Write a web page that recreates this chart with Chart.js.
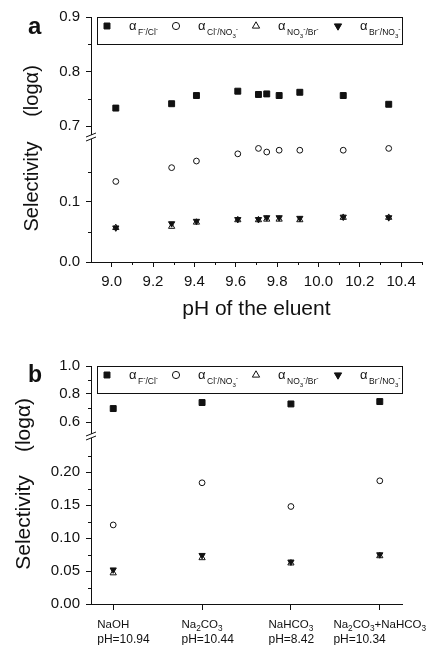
<!DOCTYPE html>
<html>
<head>
<meta charset="utf-8">
<script src="https://cdn.jsdelivr.net/npm/chart.js@4.4.1/dist/chart.umd.min.js"></script>
<style>
  html, body { margin: 0; padding: 0; background: #fff; }
  canvas { display: block; }
</style>
</head>
<body>
<canvas id="chartA" width="427" height="330"></canvas>
<canvas id="chartB" width="427" height="315"></canvas>
<script>
// ---- panel a: selectivity vs pH of the eluent ----
const phValues = [9.02, 9.29, 9.41, 9.61, 9.71, 9.75, 9.81, 9.91, 10.12, 10.34];
const alphaFClA = [0.733, 0.741, 0.756, 0.764, 0.758, 0.759, 0.756, 0.762, 0.756, 0.740];
const alphaClNO3A = [0.134, 0.157, 0.168, 0.180, 0.189, 0.183, 0.186, 0.186, 0.186, 0.189];
const alphaNO3BrA = [0.057, 0.059, 0.066, 0.070, 0.070, 0.071, 0.071, 0.070, 0.074, 0.074];
const alphaBrNO3A = [0.057, 0.064, 0.068, 0.071, 0.071, 0.074, 0.074, 0.073, 0.075, 0.074];

const phTicks = [9.0, 9.2, 9.4, 9.6, 9.8, 10.0, 10.2, 10.4];
const phMinorTicks = [9.1, 9.3, 9.5, 9.7, 9.9, 10.1, 10.3, 10.5];
const lowTicksA = [0.0, 0.1];
const lowMinorA = [0.05, 0.15];
const highTicksA = [0.7, 0.8, 0.9];
const highMinorA = [0.75, 0.85];

// ---- panel b: selectivity vs eluent type ----
const eluents = ['NaOH', 'Na2CO3', 'NaHCO3', 'Na2CO3+NaHCO3'];
const eluentPH = ['pH=10.94', 'pH=10.44', 'pH=8.42', 'pH=10.34'];
const alphaFClB = [0.696, 0.739, 0.729, 0.746];
const alphaClNO3B = [0.120, 0.184, 0.148, 0.187];
const alphaNO3BrB = [0.047, 0.070, 0.062, 0.073];
const alphaBrNO3B = [0.052, 0.074, 0.064, 0.075];

const lowTicksB = [0.0, 0.05, 0.10, 0.15, 0.20];
const lowMinorB = [0.025, 0.075, 0.125, 0.175, 0.225];
const highTicksB = [0.6, 0.8, 1.0];
const highMinorB = [0.7, 0.9];

// legend: alpha subscripts ("-" = superscript minus, digits = subscript)
const legendLabels = ['F-/Cl-', 'Cl-/NO3-', 'NO3-/Br-', 'Br-/NO3-'];

const ink = '#111';
const family = "'Liberation Sans', Arial, Helvetica, sans-serif";
Chart.defaults.font.family = family;
Chart.defaults.color = ink;

const seriesStyles = [
  { pointStyle: 'rect', rotation: 0, bg: ink, r: 4.2, legendR: 4.2 },
  { pointStyle: 'circle', rotation: 0, bg: '#fff', r: 2.9, legendR: 3.6 },
  { pointStyle: 'triangle', rotation: 0, bg: '#fff', r: 3.6, legendR: 4.2 },
  { pointStyle: 'triangle', rotation: 180, bg: ink, r: 3.6, legendR: 4.2 },
];
const drawOrder = [1, 2, 4, 3];

// draws chemistry text: digits as subscripts, "-" as superscript minus
function chemText(ctx, str, x, y, size) {
  for (const ch of str) {
    let s = size, dy = 0;
    if (/[0-9]/.test(ch)) { s = size * 0.72; dy = size * 0.3; }
    else if (ch === '-') { s = size * 0.8; dy = -size * 0.45; }
    ctx.font = s + 'px ' + family;
    ctx.fillText(ch, x, y + dy);
    x += ctx.measureText(ch).width;
  }
  return x;
}

function makeDatasets(xs, series) {
  return series.map((vals, k) => ({
    label: legendLabels[k],
    data: xs.map((x, i) => ({ x, y: vals[i] })),
    yAxisID: k === 0 ? 'yHigh' : 'yLow',
    pointStyle: seriesStyles[k].pointStyle,
    pointRotation: seriesStyles[k].rotation,
    pointRadius: seriesStyles[k].r,
    pointHoverRadius: seriesStyles[k].r,
    pointBackgroundColor: seriesStyles[k].bg,
    pointBorderColor: ink,
    pointBorderWidth: 1,
    order: drawOrder[k],
  }));
}

function yScale(min, max, weight, stackWeight, ticks, fmt) {
  return {
    type: 'linear', position: 'left', stack: 'sel', stackWeight, weight,
    min, max,
    afterBuildTicks: s => { s.ticks = ticks.map(v => ({ value: v })); },
    afterFit: s => { s.width = 91; },
    border: { display: true, color: ink, width: 1 },
    grid: { display: true, drawOnChartArea: false, drawTicks: true, tickLength: 5, color: ink },
    ticks: { font: { size: 15 }, color: ink, padding: 6, autoSkip: false, callback: v => v.toFixed(fmt) },
  };
}

function decor(p) {
  return {
    id: 'decor_' + p.letter,
    afterDraw(chart) {
      const ctx = chart.ctx;
      const { x, yLow, yHigh } = chart.scales;
      const area = chart.chartArea;
      const ax = area.left;
      ctx.save();
      ctx.strokeStyle = ink;
      ctx.lineWidth = 1;

      // minor ticks
      ctx.beginPath();
      [[yLow, p.lowMinor], [yHigh, p.highMinor]].forEach(([s, vals]) => vals.forEach(v => {
        const py = Math.round(s.getPixelForValue(v)) + 0.5;
        ctx.moveTo(ax - 3, py); ctx.lineTo(ax, py);
      }));
      (p.xMinor || []).forEach(v => {
        const px = Math.round(x.getPixelForValue(v)) + 0.5;
        ctx.moveTo(px, area.bottom); ctx.lineTo(px, area.bottom + 3);
      });
      ctx.stroke();

      // axis break marks
      const yb = Math.round(yHigh.bottom);
      ctx.fillStyle = '#fff';
      ctx.fillRect(ax - 2, yb - 2, 5, 4);
      ctx.beginPath();
      ctx.moveTo(ax - 5, yb); ctx.lineTo(ax + 5, yb - 4);
      ctx.moveTo(ax - 5, yb + 4); ctx.lineTo(ax + 5, yb);
      ctx.stroke();

      // legend box
      const bx = Math.round(area.left) + 6, by = Math.round(area.top);
      ctx.fillStyle = '#fff';
      ctx.fillRect(bx, by, 305, 27);
      ctx.strokeRect(bx + 0.5, by + 0.5, 305, 27);
      const symX = [10, 79, 159, 241];
      legendLabels.forEach((lab, k) => {
        const st = seriesStyles[k];
        ctx.fillStyle = st.bg;
        ctx.strokeStyle = ink;
        Chart.helpers.drawPoint(ctx, { pointStyle: st.pointStyle, rotation: st.rotation, radius: st.legendR, borderWidth: 1 }, bx + symX[k], by + 9);
        ctx.fillStyle = ink;
        ctx.textAlign = 'left';
        ctx.textBaseline = 'alphabetic';
        ctx.font = '13px ' + family;
        ctx.fillText('α', bx + symX[k] + 22, by + 12.5);
        chemText(ctx, lab, bx + symX[k] + 31, by + 18, 8.5);
      });

      // panel letter
      ctx.fillStyle = ink;
      ctx.font = 'bold ' + p.letterSize + 'px ' + family;
      ctx.fillText(p.letter, p.letterX, p.letterY);

      // y axis title
      ctx.font = p.titleSize + 'px ' + family;
      ctx.textAlign = 'center';
      ctx.textBaseline = 'middle';
      [['Selectivity', p.selY], ['(logα)', p.logY]].forEach(([t, cy]) => {
        ctx.save();
        ctx.translate(p.titleX, cy);
        ctx.rotate(-Math.PI / 2);
        ctx.fillText(t, 0, 0);
        ctx.restore();
      });

      // category labels (panel b)
      if (p.catLabels) {
        ctx.textAlign = 'left';
        ctx.textBaseline = 'alphabetic';
        eluents.forEach((name, i) => {
          const px = x.getPixelForValue(i);
          let w = 0;
          for (const ch of name) {
            ctx.font = (/[0-9]/.test(ch) ? 8.3 : 11.5) + 'px ' + family;
            w += ctx.measureText(ch).width;
          }
          const left = px - w / 2;
          chemText(ctx, name, left, area.bottom + 23.5, 11.5);
          ctx.font = '12px ' + family;
          ctx.fillText(eluentPH[i], left, area.bottom + 39);
        });
      }
      ctx.restore();
    }
  };
}

new Chart(document.getElementById('chartA'), {
  type: 'scatter',
  data: { datasets: makeDatasets(phValues, [alphaFClA, alphaClNO3A, alphaNO3BrA, alphaBrNO3A]) },
  options: {
    responsive: false,
    animation: false,
    layout: { padding: { top: 17, right: 2, left: 0, bottom: 0 } },
    plugins: { legend: { display: false }, tooltip: { enabled: false } },
    scales: {
      x: {
        type: 'linear', position: 'bottom', min: 8.9, max: 10.5,
        afterBuildTicks: s => { s.ticks = phTicks.map(v => ({ value: v })); },
        afterFit: s => { s.height = 68; },
        border: { display: true, color: ink, width: 1 },
        grid: { display: true, drawOnChartArea: false, drawTicks: true, tickLength: 5, color: ink },
        ticks: { font: { size: 15 }, color: ink, padding: 6, autoSkip: false, maxRotation: 0, callback: v => v.toFixed(1) },
        title: { display: true, text: 'pH of the eluent', font: { size: 21 }, color: ink, padding: { top: 0, bottom: 8 } },
      },
      yLow: yScale(0, 0.208, 0, 125, lowTicksA, 1),
      yHigh: yScale(0.68, 0.9, 1, 120, highTicksA, 1),
    },
  },
  plugins: [decor({
    letter: 'a', letterX: 28, letterY: 33.5, letterSize: 24,
    titleX: 32, selY: 186.5, logY: 91, titleSize: 20,
    xMinor: phMinorTicks, lowMinor: lowMinorA, highMinor: highMinorA,
  })],
});

new Chart(document.getElementById('chartB'), {
  type: 'scatter',
  data: { datasets: makeDatasets(eluents.map((_, i) => i), [alphaFClB, alphaClNO3B, alphaNO3BrB, alphaBrNO3B]) },
  options: {
    responsive: false,
    animation: false,
    layout: { padding: { top: 36, right: 25, left: 0, bottom: 0 } },
    plugins: { legend: { display: false }, tooltip: { enabled: false } },
    scales: {
      x: {
        type: 'linear', position: 'bottom', min: -0.25, max: 3.25,
        afterBuildTicks: s => { s.ticks = eluents.map((_, i) => ({ value: i })); },
        afterFit: s => { s.height = 41; },
        border: { display: true, color: ink, width: 1 },
        grid: { display: true, drawOnChartArea: false, drawTicks: true, tickLength: 6, color: ink },
        ticks: { autoSkip: false, maxRotation: 0, callback: () => '' },
      },
      yLow: yScale(0, 0.255, 0, 168, lowTicksB, 2),
      yHigh: yScale(0.5, 1.0, 1, 70, highTicksB, 1),
    },
  },
  plugins: [decor({
    letter: 'b', letterX: 28, letterY: 51.7, letterSize: 23,
    titleX: 24, selY: 192.5, logY: 95, titleSize: 21,
    lowMinor: lowMinorB, highMinor: highMinorB, catLabels: true,
  })],
});
</script>
</body>
</html>
